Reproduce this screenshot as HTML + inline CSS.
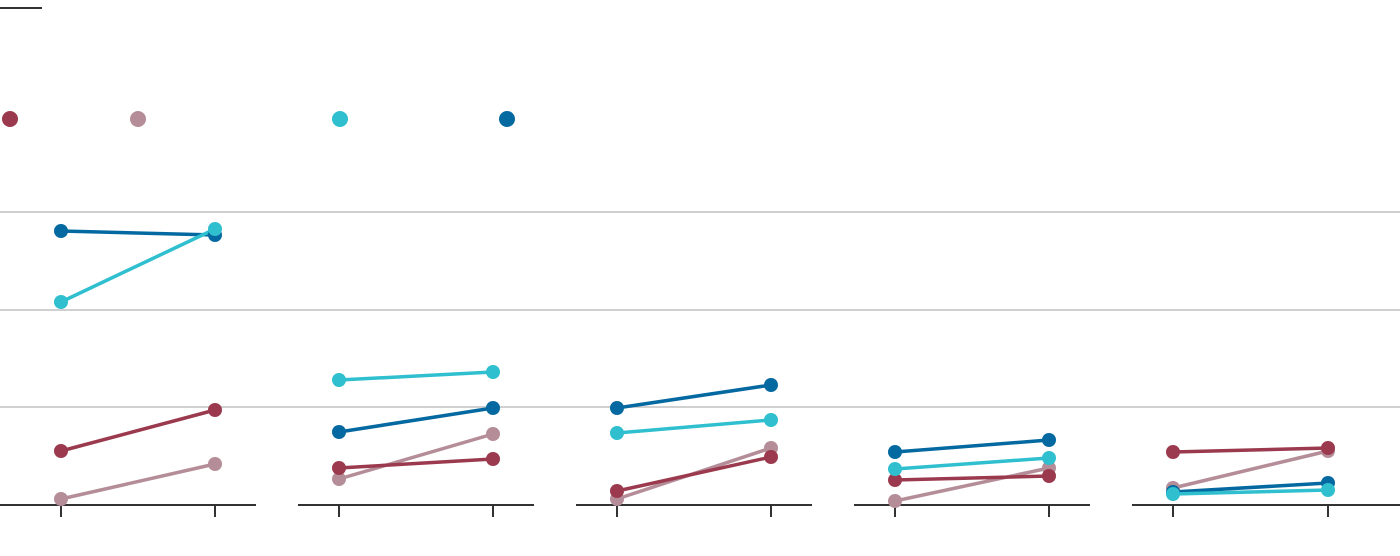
<!DOCTYPE html>
<html><head><meta charset="utf-8"><style>
html,body{margin:0;padding:0;background:#fff;width:1400px;height:556px;overflow:hidden;font-family:"Liberation Sans",sans-serif;}
</style></head><body>
<svg width="1400" height="556" viewBox="0 0 1400 556" xmlns="http://www.w3.org/2000/svg">
<line x1="0" y1="8" x2="42" y2="8" stroke="#333" stroke-width="2"/>
<circle cx="10" cy="119" r="8" fill="#9b3a4e"/>
<circle cx="138" cy="119" r="8" fill="#b48d98"/>
<circle cx="340" cy="119" r="8" fill="#2fbfcf"/>
<circle cx="507" cy="119" r="8" fill="#0469a0"/>
<g stroke="#d0d0d0" stroke-width="2">
<line x1="0" y1="212" x2="1400" y2="212"/>
<line x1="0" y1="310" x2="1400" y2="310"/>
<line x1="0" y1="407" x2="1400" y2="407"/>
</g>
<g stroke="#333" stroke-width="2">
<line x1="0" y1="505" x2="256" y2="505"/>
<line x1="298" y1="505" x2="534" y2="505"/>
<line x1="576" y1="505" x2="812" y2="505"/>
<line x1="854" y1="505" x2="1090" y2="505"/>
<line x1="1132" y1="505" x2="1400" y2="505"/>
<line x1="61" y1="505" x2="61" y2="517"/><line x1="215" y1="505" x2="215" y2="517"/>
<line x1="339" y1="505" x2="339" y2="517"/><line x1="493" y1="505" x2="493" y2="517"/>
<line x1="617" y1="505" x2="617" y2="517"/><line x1="771" y1="505" x2="771" y2="517"/>
<line x1="895" y1="505" x2="895" y2="517"/><line x1="1049" y1="505" x2="1049" y2="517"/>
<line x1="1173" y1="505" x2="1173" y2="517"/><line x1="1328" y1="505" x2="1328" y2="517"/>
</g>
<g stroke-width="3.5">
<!-- P1 -->
<line x1="61" y1="499" x2="215" y2="464" stroke="#b48d98"/>
<line x1="61" y1="451" x2="215" y2="410" stroke="#9b3a4e"/>
<line x1="61" y1="231" x2="215" y2="235" stroke="#0469a0"/>
<line x1="61" y1="302" x2="215" y2="229" stroke="#2fbfcf"/>
<!-- P2 -->
<line x1="339" y1="479" x2="493" y2="434" stroke="#b48d98"/>
<line x1="339" y1="468" x2="493" y2="459" stroke="#9b3a4e"/>
<line x1="339" y1="432" x2="493" y2="408" stroke="#0469a0"/>
<line x1="339" y1="380" x2="493" y2="372" stroke="#2fbfcf"/>
<!-- P3 -->
<line x1="617" y1="499" x2="771" y2="448" stroke="#b48d98"/>
<line x1="617" y1="491" x2="771" y2="457" stroke="#9b3a4e"/>
<line x1="617" y1="408" x2="771" y2="385" stroke="#0469a0"/>
<line x1="617" y1="433" x2="771" y2="420" stroke="#2fbfcf"/>
<!-- P4 -->
<line x1="895" y1="501" x2="1049" y2="468" stroke="#b48d98"/>
<line x1="895" y1="480" x2="1049" y2="476" stroke="#9b3a4e"/>
<line x1="895" y1="452" x2="1049" y2="440" stroke="#0469a0"/>
<line x1="895" y1="469" x2="1049" y2="458" stroke="#2fbfcf"/>
<!-- P5 -->
<line x1="1173" y1="488" x2="1328" y2="451" stroke="#b48d98"/>
<line x1="1173" y1="452" x2="1328" y2="448" stroke="#9b3a4e"/>
<line x1="1173" y1="492" x2="1328" y2="483" stroke="#0469a0"/>
<line x1="1173" y1="494" x2="1328" y2="490" stroke="#2fbfcf"/>
</g>
<g>
<circle cx="61" cy="499" r="7" fill="#b48d98"/><circle cx="215" cy="464" r="7" fill="#b48d98"/>
<circle cx="61" cy="451" r="7" fill="#9b3a4e"/><circle cx="215" cy="410" r="7" fill="#9b3a4e"/>
<circle cx="61" cy="231" r="7" fill="#0469a0"/><circle cx="215" cy="235" r="7" fill="#0469a0"/>
<circle cx="61" cy="302" r="7" fill="#2fbfcf"/><circle cx="215" cy="229" r="7" fill="#2fbfcf"/>

<circle cx="339" cy="479" r="7" fill="#b48d98"/><circle cx="493" cy="434" r="7" fill="#b48d98"/>
<circle cx="339" cy="468" r="7" fill="#9b3a4e"/><circle cx="493" cy="459" r="7" fill="#9b3a4e"/>
<circle cx="339" cy="432" r="7" fill="#0469a0"/><circle cx="493" cy="408" r="7" fill="#0469a0"/>
<circle cx="339" cy="380" r="7" fill="#2fbfcf"/><circle cx="493" cy="372" r="7" fill="#2fbfcf"/>

<circle cx="617" cy="499" r="7" fill="#b48d98"/><circle cx="771" cy="448" r="7" fill="#b48d98"/>
<circle cx="617" cy="491" r="7" fill="#9b3a4e"/><circle cx="771" cy="457" r="7" fill="#9b3a4e"/>
<circle cx="617" cy="408" r="7" fill="#0469a0"/><circle cx="771" cy="385" r="7" fill="#0469a0"/>
<circle cx="617" cy="433" r="7" fill="#2fbfcf"/><circle cx="771" cy="420" r="7" fill="#2fbfcf"/>

<circle cx="895" cy="501" r="7" fill="#b48d98"/><circle cx="1049" cy="468" r="7" fill="#b48d98"/>
<circle cx="895" cy="480" r="7" fill="#9b3a4e"/><circle cx="1049" cy="476" r="7" fill="#9b3a4e"/>
<circle cx="895" cy="452" r="7" fill="#0469a0"/><circle cx="1049" cy="440" r="7" fill="#0469a0"/>
<circle cx="895" cy="469" r="7" fill="#2fbfcf"/><circle cx="1049" cy="458" r="7" fill="#2fbfcf"/>

<circle cx="1173" cy="488" r="7" fill="#b48d98"/><circle cx="1328" cy="451" r="7" fill="#b48d98"/>
<circle cx="1173" cy="452" r="7" fill="#9b3a4e"/><circle cx="1328" cy="448" r="7" fill="#9b3a4e"/>
<circle cx="1173" cy="492" r="7" fill="#0469a0"/><circle cx="1328" cy="483" r="7" fill="#0469a0"/>
<circle cx="1173" cy="494" r="7" fill="#2fbfcf"/><circle cx="1328" cy="490" r="7" fill="#2fbfcf"/>
</g>
</svg>
</body></html>
